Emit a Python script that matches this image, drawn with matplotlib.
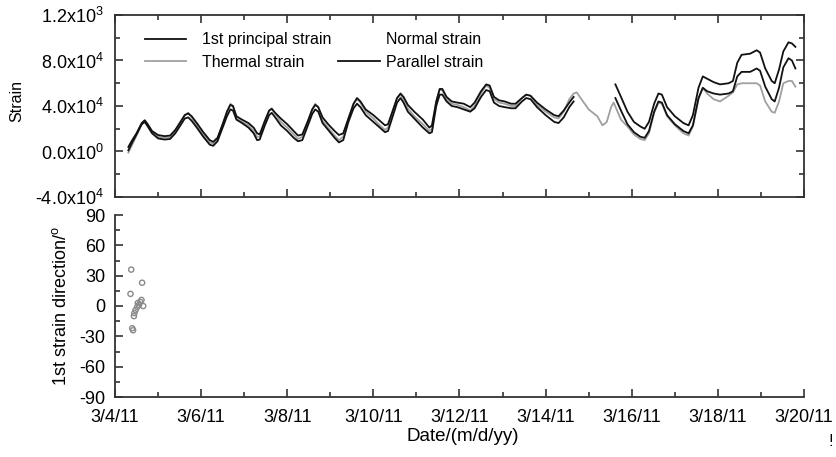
import matplotlib
matplotlib.use("Agg")
import matplotlib.pyplot as plt
from matplotlib.ticker import MultipleLocator, FixedLocator
import numpy as np

plt.rcParams['font.family'] = ['Liberation Sans', 'DejaVu Sans']
plt.rcParams['mathtext.default'] = 'regular'
plt.rcParams['axes.unicode_minus'] = False

# ---- data (days since 3/4/11; strain in units of 1e4) ----
t_seg_a = [0.31, 0.40, 0.50, 0.62, 0.69, 0.76, 0.86, 1.00, 1.15, 1.28, 1.40, 1.52, 1.62, 1.70, 1.78, 1.90,
           2.05, 2.20, 2.28, 2.38, 2.50, 2.60, 2.68, 2.74, 2.82, 2.95, 3.10, 3.22, 3.30, 3.36, 3.48, 3.58,
           3.64, 3.72, 3.85, 4.00, 4.15, 4.25, 4.35, 4.48, 4.58, 4.65, 4.72, 4.82, 4.95, 5.10, 5.20, 5.30,
           5.42, 5.54, 5.62, 5.70, 5.82, 6.00, 6.15, 6.27, 6.34, 6.45, 6.55, 6.63, 6.70, 6.80, 6.95, 7.15,
           7.30, 7.36, 7.46, 7.54, 7.60, 7.70, 7.82, 7.95, 8.10, 8.25, 8.35, 8.50, 8.62, 8.70, 8.80, 8.92,
           9.05, 9.20, 9.30, 9.45, 9.55, 9.65, 9.80, 10.00, 10.20, 10.30, 10.42, 10.55, 10.65]
principal_a = [0.4, 1.0, 1.6, 2.5, 2.75, 2.4, 1.8, 1.45, 1.35, 1.4, 1.9, 2.6, 3.2, 3.35, 3.1, 2.5,
               1.7, 1.0, 0.85, 1.2, 2.4, 3.5, 4.1, 4.0, 3.1, 2.8, 2.5, 2.1, 1.6, 1.5, 2.7, 3.6,
               3.75, 3.4, 2.9, 2.4, 1.8, 1.4, 1.5, 2.7, 3.7, 4.1, 3.9, 3.0, 2.4, 1.8, 1.45, 1.6,
               2.9, 4.2, 4.7, 4.4, 3.7, 3.2, 2.7, 2.3, 2.4, 3.6, 4.7, 5.1, 4.8, 4.1, 3.5, 2.8,
               2.1, 2.3, 4.4, 5.5, 5.5, 4.8, 4.4, 4.3, 4.2, 3.9, 4.3, 5.3, 5.9, 5.8, 4.8, 4.5,
               4.4, 4.2, 4.2, 4.7, 5.0, 4.9, 4.3, 3.7, 3.2, 3.1, 3.6, 4.3, 4.8]
parallel_a = [0.1, 0.8, 1.5, 2.4, 2.6, 2.2, 1.6, 1.15, 1.05, 1.1, 1.6, 2.3, 2.9, 3.0, 2.7, 2.1,
              1.3, 0.6, 0.5, 0.9, 2.1, 3.1, 3.7, 3.6, 2.8, 2.5, 2.1, 1.6, 1.0, 1.05, 2.3, 3.2,
              3.4, 3.0, 2.3, 1.8, 1.2, 0.9, 1.0, 2.3, 3.3, 3.7, 3.5, 2.5, 1.9, 1.2, 0.8, 1.0,
              2.6, 3.8, 4.2, 3.9, 3.2, 2.6, 2.1, 1.7, 1.8, 3.1, 4.3, 4.7, 4.3, 3.5, 2.9, 2.1,
              1.6, 1.7, 4.0, 5.0, 5.0, 4.4, 4.0, 3.9, 3.7, 3.5, 3.8, 4.8, 5.4, 5.3, 4.3, 4.0,
              3.9, 3.8, 3.8, 4.4, 4.7, 4.6, 3.9, 3.2, 2.6, 2.5, 3.0, 3.9, 4.4]

t_seg_b = [11.62, 11.75, 11.90, 12.05, 12.20, 12.30, 12.40, 12.52, 12.62, 12.70, 12.82, 13.00, 13.20, 13.32,
           13.42, 13.55, 13.65, 13.75, 13.90, 14.05, 14.25, 14.35, 14.45, 14.55, 14.75, 14.90, 14.98, 15.10,
           15.25, 15.32, 15.42, 15.52, 15.64, 15.72, 15.80]
principal_b = [5.9, 4.8, 3.5, 2.6, 2.2, 2.0, 2.6, 4.2, 5.1, 5.0, 3.9, 3.1, 2.5, 2.3,
               3.2, 5.6, 6.6, 6.4, 6.1, 5.9, 6.0, 6.2, 7.8, 8.5, 8.6, 8.9, 8.7, 7.3,
               6.2, 6.0, 7.2, 8.8, 9.6, 9.5, 9.2]
parallel_b = [4.7, 3.6, 2.4, 1.7, 1.3, 1.2, 1.8, 3.5, 4.4, 4.3, 3.2, 2.4, 1.8, 1.6,
              2.3, 4.7, 5.6, 5.3, 5.1, 5.0, 5.1, 5.3, 6.6, 7.0, 7.0, 7.3, 7.1, 5.7,
              4.6, 4.4, 5.6, 7.4, 8.2, 8.0, 7.3]

t_thermal = t_seg_a + [10.72, 10.85, 11.00, 11.10, 11.20, 11.32, 11.42, 11.52, 11.58, 11.66] + t_seg_b[1:]
thermal = [-0.1, 0.6, 1.4, 2.4, 2.7, 2.3, 1.7, 1.3, 1.2, 1.25, 1.8, 2.6, 3.2, 3.4, 3.0, 2.3,
           1.5, 0.8, 0.7, 1.1, 2.4, 3.5, 4.2, 4.0, 2.9, 2.6, 2.3, 1.8, 1.3, 1.3, 2.6, 3.6,
           3.8, 3.3, 2.6, 2.1, 1.5, 1.1, 1.3, 2.6, 3.7, 4.2, 3.9, 2.7, 2.1, 1.4, 1.0, 1.3,
           2.9, 4.2, 4.6, 4.3, 3.5, 2.9, 2.3, 1.9, 2.1, 3.5, 4.7, 5.0, 4.6, 3.8, 3.1, 2.4,
           1.8, 2.0, 4.4, 5.4, 5.4, 4.6, 4.2, 4.1, 3.9, 3.6, 4.0, 5.1, 5.8, 5.6, 4.6, 4.3,
           4.2, 4.0, 4.0, 4.7, 5.0, 4.9, 4.1, 3.5, 3.0, 2.9, 3.5, 4.6, 5.1,
           5.2, 4.5, 3.7, 3.4, 3.1, 2.3, 2.6, 3.9, 4.3, 3.6,
           2.8, 2.2, 1.5, 1.1, 1.0, 1.6, 3.4, 4.3, 4.2, 3.1, 2.3, 1.6, 1.4,
           2.2, 4.6, 5.6, 5.1, 4.6, 4.4, 4.9, 5.2, 5.9, 6.0, 6.0, 6.0, 5.8, 4.4,
           3.5, 3.4, 4.4, 6.0, 6.2, 6.2, 5.7]

t_direction = [0.376, 0.36, 0.63, 0.44, 0.40, 0.42, 0.655, 0.476, 0.515, 0.553, 0.59, 0.615, 0.53, 0.45]
direction = [36, 12, 23, -10, -22, -24, 0, -4, -1, 1, 4, 6, 3, -7]

date_labels = ["3/4/11", "3/6/11", "3/8/11", "3/10/11", "3/12/11", "3/14/11", "3/16/11", "3/18/11", "3/20/11"]
strain_ticks = [-4e4, 0, 4e4, 8e4, 1.2e5]
strain_labels = ["-4.0x10$^4$", "0.0x10$^0$", "4.0x10$^4$", "8.0x10$^4$", "1.2x10$^3$"]
angle_ticks = [-90, -60, -30, 0, 30, 60, 90]

SCALE = 1e4
BLACK = '#111111'
GRAY = '#a0a0a0'
SPINE = '#333333'
TICK_FS = 13

fig = plt.figure(figsize=(8.37, 4.57), dpi=100)
ax1 = fig.add_axes([115/837, 1-197/457, 689/837, 182/457])
ax2 = fig.add_axes([115/837, 1-397/457, 689/837, 182/457])

s = lambda v: np.array(v) * SCALE
l3, = ax1.plot(t_thermal, s(thermal), color=GRAY, lw=1.3, label='Thermal strain')
l1, = ax1.plot(t_seg_a, s(principal_a), color=BLACK, lw=1.3, label='1st principal strain')
ax1.plot(t_seg_b, s(principal_b), color=BLACK, lw=1.3)
l4, = ax1.plot(t_seg_a, s(parallel_a), color=BLACK, lw=1.3, label='Parallel strain')
ax1.plot(t_seg_b, s(parallel_b), color=BLACK, lw=1.3)
l2, = ax1.plot([], [], color='none', lw=1.3, label='Normal strain')

leg_kw = dict(loc='upper left', frameon=False, fontsize=11.5, borderpad=0, borderaxespad=0,
              labelspacing=0.48)
leg1 = ax1.legend(handles=[l1, l3], bbox_to_anchor=(0.0435, 0.905), handlelength=2.6,
                  handletextpad=1.0, **leg_kw)
ax1.add_artist(leg1)
ax1.legend(handles=[l2, l4], bbox_to_anchor=(0.3237, 0.905), handlelength=2.6,
           handletextpad=0.4, **leg_kw)

ax1.set_xlim(0, 16)
ax1.set_ylim(-4e4, 1.2e5)
ax1.yaxis.set_major_locator(FixedLocator(strain_ticks))
ax1.set_yticklabels(strain_labels)
ax1.yaxis.set_minor_locator(MultipleLocator(2e4))
ax1.xaxis.set_major_locator(MultipleLocator(2))
ax1.xaxis.set_minor_locator(MultipleLocator(1))
ax1.tick_params(axis='both', which='both', direction='in', top=True, right=True, labelbottom=False,
                colors=SPINE, labelcolor='black', labelsize=TICK_FS, pad=8)
ax1.tick_params(which='major', length=6, width=1.2)
ax1.tick_params(which='minor', length=3.5, width=1.2)
ax1.set_ylabel('Strain', fontsize=11.5)
ax1.yaxis.set_label_coords(-0.131, 0.53)
for sp in ax1.spines.values():
    sp.set_color(SPINE); sp.set_linewidth(1.3)

ax2.scatter(t_direction, direction, s=14, facecolors='none', edgecolors='#8a8a8a', linewidths=1.0)
ax2.set_xlim(0, 16)
ax2.set_ylim(-90, 90)
ax2.yaxis.set_major_locator(FixedLocator(angle_ticks))
ax2.yaxis.set_minor_locator(MultipleLocator(15))
ax2.set_xticks(range(0, 17, 2))
ax2.set_xticklabels(date_labels)
ax2.xaxis.set_minor_locator(MultipleLocator(1))
ax2.spines['top'].set_visible(False)
ax2.spines['right'].set_visible(False)
for sp in ['left', 'bottom']:
    ax2.spines[sp].set_color(SPINE); ax2.spines[sp].set_linewidth(1.3)
ax2.tick_params(axis='both', which='both', direction='in', colors=SPINE, labelcolor='black',
                labelsize=TICK_FS)
ax2.tick_params(axis='y', pad=7)
ax2.tick_params(axis='x', pad=9)
ax2.tick_params(which='major', length=6, width=1.2)
ax2.tick_params(which='minor', length=3.5, width=1.2)
ax2.set_ylabel('1st strain direction/$^o$', fontsize=13)
ax2.yaxis.set_label_coords(-0.065, 0.5)
ax2.set_xlabel('Date/(m/d/yy)', fontsize=13.5)
ax2.xaxis.set_label_coords(0.504, -0.172)

fig.text(831/837, 1-442/457, '!', fontsize=12, ha='center', va='center')

fig.savefig('out.png', dpi=100)
